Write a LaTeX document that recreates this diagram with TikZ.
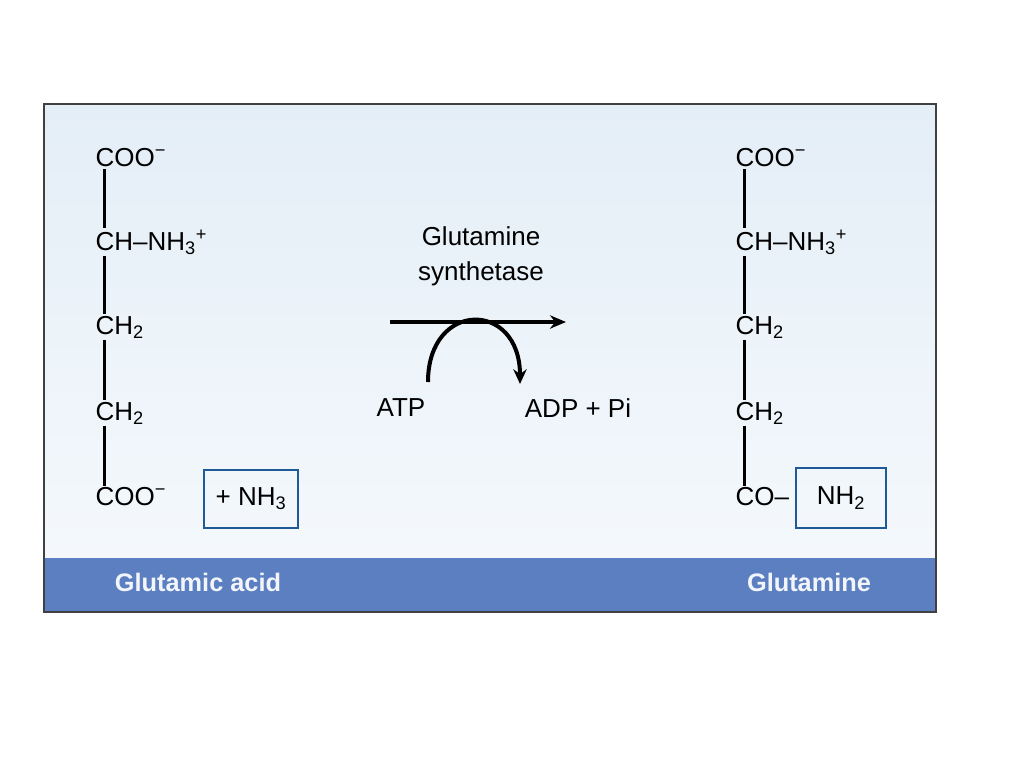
\documentclass[tikz,border=0pt]{standalone}
\usepackage{fontspec}
\setmainfont{Liberation Sans}
\usetikzlibrary{arrows.meta}
\definecolor{band}{HTML}{5B7FC0}
\definecolor{panel}{HTML}{E4EEF7}
\definecolor{boxblue}{HTML}{1F5A96}
\tikzset{
    chem/.style={anchor=west, inner sep=1pt, font=\fontsize{19.5}{22}\selectfont},
    bond/.style={line width=2.1pt},
    tag/.style={font=\bfseries\fontsize{19}{22}\selectfont, text=white!92!band},
    groupbox/.style={draw=boxblue, line width=1.8pt}
}
\begin{document}
\begin{tikzpicture}[x=0.75pt, y=-0.75pt]
    \useasboundingbox (0,0) rectangle (1024,768);
    \fill[white] (0,0) rectangle (1024,768);
    % Panel and band
    \shade[top color=panel, bottom color=white!60!panel] (44,104) rectangle (936,558);
    \fill[band] (44,558) rectangle (936,612);
    \draw[black!75, line width=2pt] (44,104) rectangle (936,612);
    % Glutamic acid
    \foreach \side/\x in {L/94, R/734} {
        \node[chem] (\side-1) at (\x,158) {COO\textsuperscript{−}};
        \node[chem] (\side-2) at (\x,242) {CH–NH\textsubscript{3}\textsuperscript{+}};
        \node[chem] (\side-3) at (\x,327) {CH\textsubscript{2}};
        \node[chem] (\side-4) at (\x,413) {CH\textsubscript{2}};
    }
    \node[chem] (L-5) at (94,497) {COO\textsuperscript{−}};
    \node[chem] (R-5) at (734,497) {CO–};
    % Bonds
    \foreach \side in {L,R} {
        \foreach \i/\j in {1/2,2/3,3/4,4/5} {
            \draw[bond] ([xshift=8]\side-\i.south west) -- ([xshift=8]\side-\j.north west);
        }
    }
    % Amide groups
    \node[chem, groupbox, anchor=center, minimum width=94*0.75pt, minimum height=58*0.75pt] (ammonia) at (251,499) {+ NH\textsubscript{3}};
    \node[chem, groupbox, anchor=center, minimum width=90*0.75pt, minimum height=60*0.75pt] (amide) at (841,498) {NH\textsubscript{2}};
    % Enzyme
    \node[chem, anchor=center, align=center, font=\fontsize{19.5}{26}\selectfont] (enzyme) at (481,256) {Glutamine\\synthetase};
    \coordinate (start) at (390,322);
    \coordinate (end) at (566,322);
    \draw[line width=2.4pt, -{Stealth[length=12pt, width=10pt]}] (start) -- (end);
    \node[chem, anchor=center] (atp) at (401,408) {ATP};
    \node[chem, anchor=center] (adp) at (578,408) {ADP + Pi};
    \coordinate (cofrom) at (428,382);
    \coordinate (coto) at (520,384);
    \draw[line width=3pt, -{Stealth[length=11pt, width=10pt]}] (cofrom) .. controls (428,300) and (520,300) .. (coto);
    % Names
    \node[tag] (acid) at (198,582) {Glutamic acid};
    \node[tag] (gln) at (809,582) {Glutamine};
\end{tikzpicture}
\end{document}
